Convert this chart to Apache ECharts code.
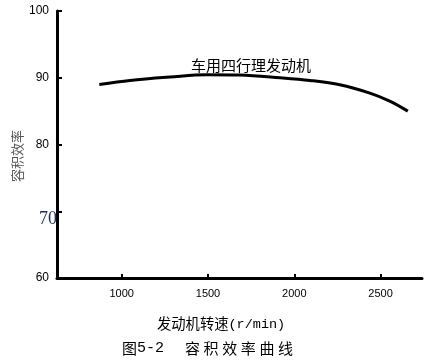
<!DOCTYPE html>
<html><head><meta charset="utf-8">
<script src="https://cdn.jsdelivr.net/npm/echarts@6/dist/echarts.min.js"></script>
<style>html,body{margin:0;padding:0;background:#fff}#c{width:441px;height:362px}</style>
</head><body><div id="c"></div>
<script>
const speeds = [870, 1048, 1280, 1492, 1685, 1917, 2091, 2264, 2438, 2553, 2658];
const efficiency = [89.0, 89.6, 90.1, 90.45, 90.4, 90.0, 89.6, 88.95, 87.7, 86.5, 85.0];
const xTicks = [1000, 1500, 2000, 2500];
const yTicks = [60, 70, 80, 90, 100];
const curveLabel = '车用四行理发动机';
const xNameCn = '发动机转速';
const xNameUnit = '(r/min)';
const captionPrefix = '图';
const captionNum = '5-2';
const captionTitle = '容积效率曲线';
const yName = '容积效率';

const chart = echarts.init(document.getElementById('c'), null, {renderer: 'canvas'});
const cjk = '"Noto Sans CJK SC", "Noto Sans", sans-serif';
const mono = '"Liberation Mono", "DejaVu Sans Mono", monospace';
const captionText = '{a|' + captionPrefix + '}{m|' + captionNum + '}{g| }' +
  captionTitle.split('').map(ch => '{c|' + ch + '}').join('');
chart.setOption({
  animation: false,
  backgroundColor: '#fff',
  grid: {left: 57, right: 19, top: 11, bottom: 84},
  xAxis: {
    type: 'value', min: 625, max: 2740,
    axisLine: {show: true, lineStyle: {color: '#000', width: 3}},
    axisTick: {show: true, inside: true, length: 4, customValues: xTicks, lineStyle: {color: '#000', width: 2}},
    axisLabel: {customValues: xTicks, formatter: v => String(v), fontSize: 11, color: '#000', margin: 10, fontFamily: '"Liberation Sans", sans-serif'},
    splitLine: {show: false}
  },
  yAxis: {
    type: 'value', min: 60, max: 100, interval: 10,
    axisLine: {show: true, lineStyle: {color: '#000', width: 3}},
    axisTick: {show: true, inside: true, length: 5, lineStyle: {color: '#000', width: 2}},
    axisLabel: {
      margin: 0,
      formatter: function (v) { return v === 70 ? '{s|' + v + '}' : '{n|' + v + '}'; },
      rich: {
        n: {fontSize: 12, color: '#000', fontFamily: '"Liberation Sans", sans-serif', padding: [0, 8, 0, 0]},
        s: {fontSize: 18, color: '#1c2c5e', fontFamily: '"Liberation Serif", "DejaVu Serif", serif', padding: [16, 0, 0, 0]}
      }
    },
    splitLine: {show: false}
  },
  series: [{
    type: 'line', smooth: 0.35, symbol: 'none',
    lineStyle: {color: '#000', width: 3},
    data: speeds.map((s, i) => [s, efficiency[i]])
  }],
  graphic: [
    {type: 'text', x: 191, y: 65, style: {text: curveLabel, font: '15px ' + cjk, fill: '#000', verticalAlign: 'middle'}},
    {type: 'text', x: 17, y: 156, rotation: Math.PI / 2, style: {text: yName, font: '13px ' + cjk, fill: '#555', align: 'center', verticalAlign: 'middle'}},
    {type: 'text', x: 157, y: 324, style: {
      text: '{a|' + xNameCn + '}{b|' + xNameUnit + '}', align: 'left', verticalAlign: 'middle',
      rich: {a: {fontSize: 14.3, fontFamily: cjk, fill: '#000'}, b: {fontSize: 13.5, fontFamily: mono, fill: '#000'}}
    }},
    {type: 'text', x: 122, y: 348, style: {
      text: captionText, align: 'left', verticalAlign: 'middle',
      rich: {
        a: {fontSize: 15, fontFamily: cjk, fill: '#000', width: 15},
        m: {fontSize: 15, fontFamily: mono, fill: '#000', width: 28},
        g: {fontSize: 15, width: 20},
        c: {fontSize: 15, fontFamily: cjk, fill: '#000', width: 18.6}
      }
    }}
  ]
});
</script></body></html>
